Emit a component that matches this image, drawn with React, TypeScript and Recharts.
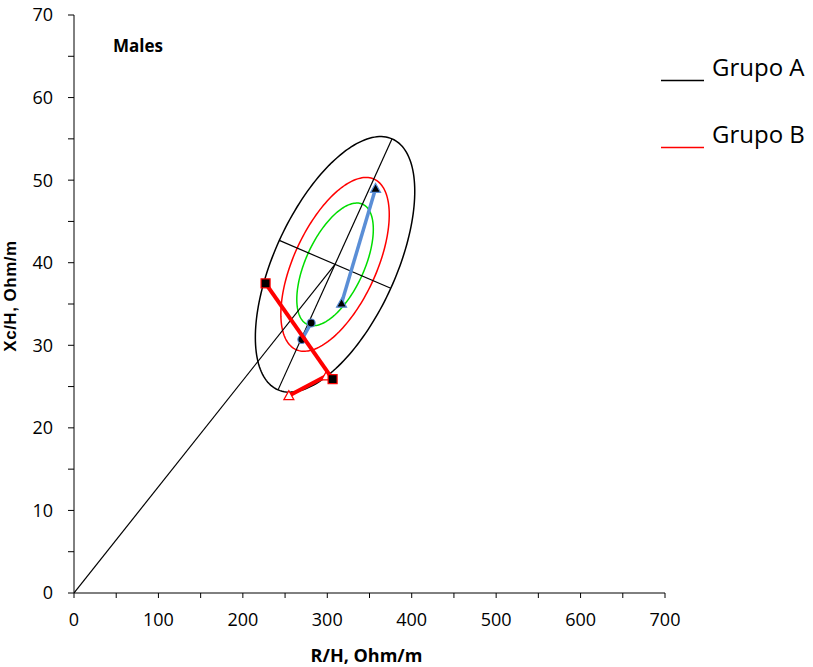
import React from 'react';
import { ComposedChart, Scatter, XAxis, YAxis } from 'recharts';

// ---- axis ticks ----
const xTicks = [0, 50, 100, 150, 200, 250, 300, 350, 400, 450, 500, 550, 600, 650, 700];
const xLabelTicks = [0, 100, 200, 300, 400, 500, 600, 700];
const yTicks = [0, 5, 10, 15, 20, 25, 30, 35, 40, 45, 50, 55, 60, 65, 70];
const yLabelTicks = [0, 10, 20, 30, 40, 50, 60, 70];

// ---- tolerance ellipses (reference population) ----
const ellipseCenter = [309.2, 39.8];
const majorSemiAxis = [67.5, 15.2];
const minorSemiAxis = [66.0, -2.9];
const ellipseNames = ['95%', '75%', '50%'];
const ellipseScales = [1, 0.68, 0.48];

// ---- group vectors ----
const grupoATriangles = [
  { x: 357.2, y: 49.0 },
  { x: 316.9, y: 35.1 },
];
const grupoACircles = [
  { x: 280.9, y: 32.7 },
  { x: 269.9, y: 30.7 },
];
const grupoBSquares = [
  { x: 226.9, y: 37.5 },
  { x: 306.3, y: 25.9 },
];
const grupoBTriangles = [
  { x: 299.2, y: 26.3 },
  { x: 254.5, y: 23.9 },
];
const legendLabels = ['Grupo A', 'Grupo B'];
const panelTitle = 'Males';

const ellipseColors = ['#000000', '#ff0000', '#00dd00'];
const BLUE = '#5a8ed6';
const RED = '#ff0000';
const FONT = '"Open Sans", "Liberation Sans", sans-serif';

const SEGMENTS = 180;
function ellipsePoints(scale: number) {
  const pts: { x: number; y: number }[] = [];
  for (let i = 0; i <= SEGMENTS; i++) {
    const t = (2 * Math.PI * i) / SEGMENTS;
    const c = Math.cos(t);
    const s = Math.sin(t);
    pts.push({
      x: ellipseCenter[0] + scale * (majorSemiAxis[0] * c + minorSemiAxis[0] * s),
      y: ellipseCenter[1] + scale * (majorSemiAxis[1] * c + minorSemiAxis[1] * s),
    });
  }
  return pts;
}

const majorAxisLine = [
  { x: ellipseCenter[0] - majorSemiAxis[0], y: ellipseCenter[1] - majorSemiAxis[1] },
  { x: ellipseCenter[0] + majorSemiAxis[0], y: ellipseCenter[1] + majorSemiAxis[1] },
];
const minorAxisLine = [
  { x: ellipseCenter[0] - minorSemiAxis[0], y: ellipseCenter[1] - minorSemiAxis[1] },
  { x: ellipseCenter[0] + minorSemiAxis[0], y: ellipseCenter[1] + minorSemiAxis[1] },
];
const originLine = [
  { x: 0, y: 0 },
  { x: ellipseCenter[0], y: ellipseCenter[1] },
];

const NoShape = () => <g />;

const TriangleFilled = (props: any) => {
  const { cx, cy } = props;
  const h = 5;
  return (
    <polygon
      points={`${cx},${cy - h} ${cx - h},${cy + h * 0.8} ${cx + h},${cy + h * 0.8}`}
      fill="#000"
      stroke={BLUE}
      strokeWidth={1.2}
    />
  );
};
const TriangleHollow = (props: any) => {
  const { cx, cy } = props;
  const h = 5;
  return (
    <polygon
      points={`${cx},${cy - h} ${cx - h},${cy + h * 0.8} ${cx + h},${cy + h * 0.8}`}
      fill="#fff"
      stroke={RED}
      strokeWidth={1.2}
    />
  );
};
const CircleMarker = (props: any) => {
  const { cx, cy } = props;
  return <circle cx={cx} cy={cy} r={4} fill="#000" stroke={BLUE} strokeWidth={1.2} />;
};
const SquareMarker = (props: any) => {
  const { cx, cy } = props;
  return <rect x={cx - 4.5} y={cy - 4.5} width={9} height={9} fill="#000" stroke={RED} strokeWidth={1.2} />;
};

const tickStyle = { fill: '#000', fontSize: 18, fontFamily: FONT };

export default function App() {
  return (
    <div style={{ position: 'absolute', left: 0, top: 0, width: 813, height: 667, background: '#fff' }}>
      <ComposedChart width={813} height={667} margin={{ top: 15, right: 148, bottom: 0, left: 0 }}>
        <XAxis
          type="number"
          dataKey="x"
          domain={[0, 700]}
          ticks={xTicks}
          interval={0}
          allowDataOverflow
          tickFormatter={(v: number) => (xLabelTicks.includes(v) ? String(v) : '')}
          tickSize={5}
          tickMargin={15}
          stroke="#000"
          tick={tickStyle}
          height={74}
          label={{
            content: (p: any) => {
              const vb = p.viewBox || { x: 74, width: 591, y: 593 };
              return (
                <text
                  x={vb.x + vb.width / 2 - 3}
                  y={vb.y + 69}
                  textAnchor="middle"
                  fontFamily={FONT}
                  fontWeight="bold"
                  fontSize={18}
                  fill="#000"
                >
                  R/H, Ohm/m
                </text>
              );
            },
          }}
        />
        <YAxis
          type="number"
          dataKey="y"
          domain={[0, 70]}
          ticks={yTicks}
          interval={0}
          allowDataOverflow
          tickFormatter={(v: number) => (yLabelTicks.includes(v) ? String(v) : '')}
          tickSize={6}
          tickMargin={15}
          stroke="#000"
          tick={tickStyle}
          width={74}
          label={{
            content: (p: any) => {
              const vb = p.viewBox || { x: 0, y: 15, height: 578 };
              const cx = vb.x + 16;
              const cy = vb.y + vb.height / 2 - 8;
              return (
                <text
                  x={cx}
                  y={cy}
                  transform={`rotate(-90, ${cx}, ${cy})`}
                  textAnchor="middle"
                  fontFamily='"Liberation Sans", Arial, sans-serif'
                  fontWeight="bold"
                  fontSize={17}
                  letterSpacing={0.5}
                  fill="#000"
                >
                  Xc/H, Ohm/m
                </text>
              );
            },
          }}
        />
        {ellipseScales.map((s, i) => (
          <Scatter
            key={ellipseNames[i]}
            name={ellipseNames[i]}
            data={ellipsePoints(s)}
            line={{ stroke: ellipseColors[i], strokeWidth: 1.5 }}
            shape={NoShape}
            isAnimationActive={false}
          />
        ))}
        <Scatter data={majorAxisLine} line={{ stroke: '#000', strokeWidth: 1.2 }} shape={NoShape} isAnimationActive={false} />
        <Scatter data={minorAxisLine} line={{ stroke: '#000', strokeWidth: 1.2 }} shape={NoShape} isAnimationActive={false} />
        <Scatter data={originLine} line={{ stroke: '#000', strokeWidth: 1.2 }} shape={NoShape} isAnimationActive={false} />
        <Scatter data={grupoATriangles} line={{ stroke: BLUE, strokeWidth: 3.5 }} shape={TriangleFilled} isAnimationActive={false} />
        <Scatter data={grupoACircles} line={{ stroke: BLUE, strokeWidth: 3.5 }} shape={CircleMarker} isAnimationActive={false} />
        <Scatter data={grupoBTriangles} line={{ stroke: RED, strokeWidth: 4 }} shape={TriangleHollow} isAnimationActive={false} />
        <Scatter data={grupoBSquares} line={{ stroke: RED, strokeWidth: 4 }} shape={SquareMarker} isAnimationActive={false} />
      </ComposedChart>
      <svg
        width={813}
        height={667}
        style={{ position: 'absolute', left: 0, top: 0, pointerEvents: 'none' }}
      >
        <text x={113} y={51.5} fontFamily={FONT} fontWeight="bold" fontSize={17} fill="#000">
          {panelTitle}
        </text>
        <line x1={661} x2={704} y1={80.5} y2={80.5} stroke="#000" strokeWidth={1.5} />
        <text x={712} y={76} fontFamily={FONT} fontSize={24} fill="#000">
          {legendLabels[0]}
        </text>
        <line x1={661} x2={704} y1={147.5} y2={147.5} stroke={RED} strokeWidth={1.5} />
        <text x={712} y={143.3} fontFamily={FONT} fontSize={24} fill="#000">
          {legendLabels[1]}
        </text>
      </svg>
    </div>
  );
}
